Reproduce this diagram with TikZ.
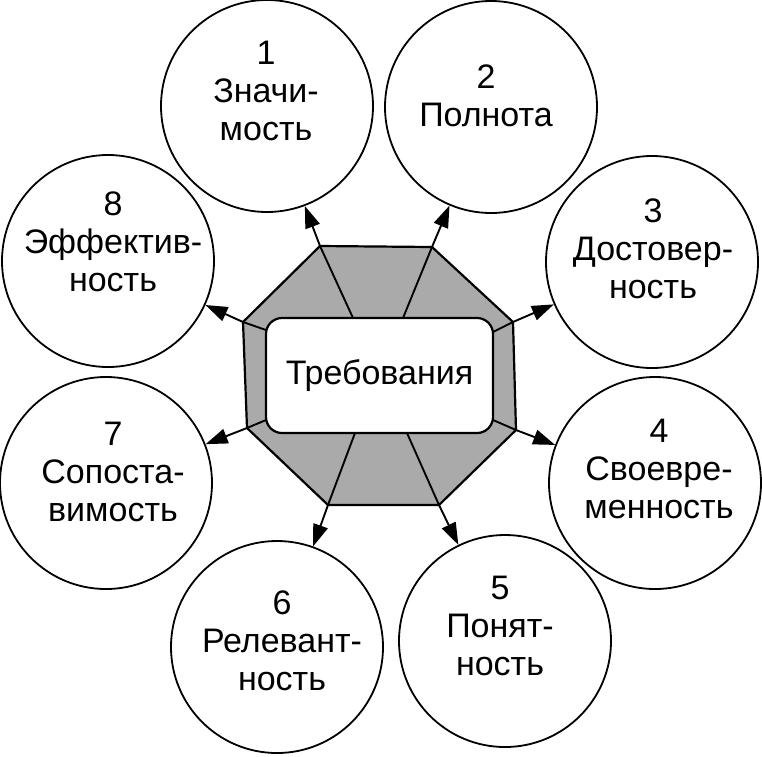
\documentclass[tikz,border=0pt]{standalone}
\usepackage{fontspec}
\setmainfont{Liberation Sans}
\usetikzlibrary{arrows.meta}
\definecolor{octgray}{RGB}{170,170,170}
\begin{document}
\begin{tikzpicture}[x=1pt,y=-1pt,
  circ/.style={circle,draw,line width=1.8pt,minimum size=212pt,inner sep=0pt},
  lbl/.style={align=center,inner sep=0pt,font=\fontsize{34}{38}\selectfont},
  octa/.style={fill=octgray,draw,line width=2.2pt,line join=round},
  reqbox/.style={draw,fill=white,rounded corners=16pt,line width=2.2pt,
    minimum width=227pt,minimum height=115pt,inner sep=0pt,
    font=\fontsize{34}{38}\selectfont},
  arr/.style={line width=1.9pt,line join=round,-{Triangle[length=22pt,width=15pt]}}
]
\useasboundingbox (0,0) rectangle (762,756);

% outer circles
\node[circ] (c1) at (267,106) {};
\node[circ] (c2) at (491,107) {};
\node[circ] (c3) at (652,262) {};
\node[circ] (c4) at (655,483) {};
\node[circ] (c5) at (505,641) {};
\node[circ] (c6) at (277,647) {};
\node[circ] (c7) at (106,483) {};
\node[circ] (c8) at (108,261) {};

% labels
\node[lbl] (l1) at (266,90.5)  {1\\Значи-\\мость};
\node[lbl] (l2) at (486,95.5)  {2\\Полнота};
\node[lbl] (l3) at (653,249)   {3\\Достовер-\\ность};
\node[lbl] (l4) at (659,468.5) {4\\Своевре-\\менность};
\node[lbl] (l5) at (500,625.5) {5\\Понят-\\ность};
\node[lbl] (l6) at (282,640.5) {6\\Релевант-\\ность};
\node[lbl] (l7) at (113,471.5) {7\\Сопоста-\\вимость};
\node[lbl] (l8) at (113,242)   {8\\Эффектив-\\ность};

% octagon vertices
\coordinate (v1) at (320,246);
\coordinate (v2) at (432,247);
\coordinate (v3) at (513,322);
\coordinate (v4) at (516,430);
\coordinate (v5) at (439,505);
\coordinate (v6) at (328,505);
\coordinate (v7) at (247,428);
\coordinate (v8) at (243,322);
\path[octa] (v1) -- (v2) -- (v3) -- (v4) -- (v5) -- (v6) -- (v7) -- (v8) -- cycle;

% central box
\node[reqbox] (req) at (379.5,375.5) {Требования};

% spoke start points on the box
\coordinate (s1) at (353,318);
\coordinate (s2) at (403,318);
\coordinate (s3) at (493,332);
\coordinate (s4) at (493,420);
\coordinate (s5) at (407,433);
\coordinate (s6) at (355,433);
\coordinate (s7) at (266,420);
\coordinate (s8) at (266,330);

% spokes with arrows
\draw[arr] (s1) -- (v1) -- (c1);
\draw[arr] (s2) -- (v2) -- (c2);
\draw[arr] (s3) -- (v3) -- (c3);
\draw[arr] (s4) -- (v4) -- (c4);
\draw[arr] (s5) -- (v5) -- (c5);
\draw[arr] (s6) -- (v6) -- (c6);
\draw[arr] (s7) -- (v7) -- (c7);
\draw[arr] (s8) -- (v8) -- (c8);
\end{tikzpicture}
\end{document}
